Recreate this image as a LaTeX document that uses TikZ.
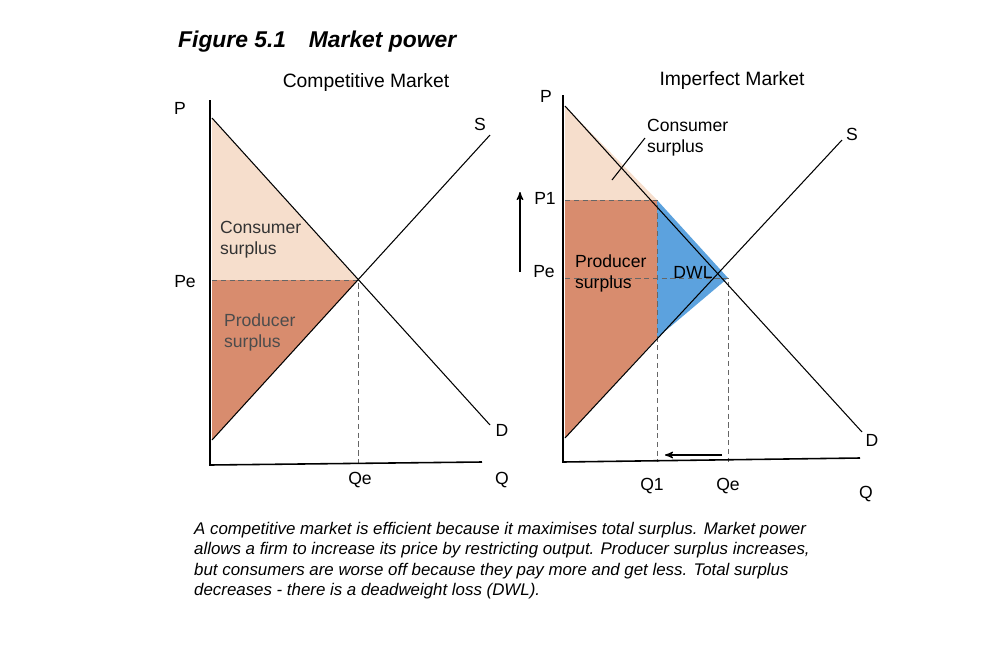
\documentclass[tikz,border=0pt]{standalone}
\usepackage{fontspec}
\setmainfont{Liberation Sans}
\usetikzlibrary{arrows}
\definecolor{cspeach}{RGB}{246,222,204}
\definecolor{pssalmon}{RGB}{216,140,110}
\definecolor{dwlblue}{RGB}{92,162,222}
\tikzset{
  axis/.style = {line width=0.9pt, black},
  curve/.style = {line width=0.6pt, black},
  guide/.style = {densely dashed, line width=0.4pt, gray!80!black},
  lbl/.style = {font=\fontsize{10}{12}\selectfont, inner sep=1pt},
  title/.style = {font=\fontsize{11}{13}\selectfont}}
\begin{document}
\begin{tikzpicture}[x=0.02cm,y=-0.02cm,>=stealth']
\useasboundingbox (0,0) rectangle (1002,650);
\node [anchor=west, font=\bfseries\itshape\fontsize{13}{15}\selectfont] (fig) at (172,42) {Figure 5.1\quad Market power};

% competitive market
\coordinate (O1) at (210,465);
\coordinate (P1top) at (210,100);
\coordinate (Q1end) at (482,462);
\coordinate (Dtop) at (212,118);
\coordinate (Dbot) at (490,425);
\coordinate (Sbot) at (212,440);
\coordinate (Stop) at (490,135);
\coordinate (E1) at (358,280);
\coordinate (Pe1) at (212,280);
\fill [cspeach] (Dtop) -- (E1) -- (Pe1) -- cycle;
\fill [pssalmon] (Pe1) -- (E1) -- (Sbot) -- cycle;
\draw [guide] (Pe1) -- (E1) -- (E1 |- O1);
\draw [curve] (Dtop) -- (Dbot);
\draw [curve] (Sbot) -- (Stop);
\draw [axis] (P1top) -- (O1) -- (Q1end);
\node [title] (t1) at (366,82) {Competitive Market};
\node [lbl] (p1) at (180,108) {P};
\node [lbl] (pe1) at (185,282) {Pe};
\node [lbl] (s1) at (480,124) {S};
\node [lbl] (d1) at (502,430) {D};
\node [lbl] (qe1) at (360,480) {Qe};
\node [lbl] (q1) at (502,480) {Q};
\node [lbl, align=left, anchor=west, text=black!80] (cs1) at (218,240) {Consumer\\surplus};
\node [lbl, align=left, anchor=west, text=black!70] (ps1) at (222,332) {Producer\\surplus};

% imperfect market
\coordinate (O2) at (563,462);
\coordinate (P2top) at (563,95);
\coordinate (Q2end) at (860,458);
\coordinate (D2top) at (565,106);
\coordinate (D2bot) at (862,432);
\coordinate (S2bot) at (565,438);
\coordinate (S2top) at (842,140);
\coordinate (E2) at (728,278);
\coordinate (M) at (657,200);
\coordinate (C) at (657,338);
\coordinate (PP1) at (565,200);
\coordinate (Pe2) at (565,278);
\fill [cspeach] (D2top) -- (M) -- (PP1) -- cycle;
\fill [pssalmon] (PP1) -- (M) -- (C) -- (S2bot) -- cycle;
\fill [dwlblue] (M) -- (E2) -- (C) -- cycle;
\draw [guide] (PP1) -- (M) -- (M |- O2);
\draw [guide] (Pe2) -- (E2) -- (E2 |- O2);
\draw [curve] (D2top) -- (D2bot);
\draw [curve] (S2bot) -- (S2top);
\draw [axis] (P2top) -- (O2) -- (Q2end);
\node [title] (t2) at (732,80) {Imperfect Market};
\node [lbl] (p2) at (546,96) {P};
\node [lbl] (pp1) at (545,198) {P1};
\node [lbl] (pe2) at (544,272) {Pe};
\node [lbl] (s2) at (852,134) {S};
\node [lbl] (d2) at (872,440) {D};
\node [lbl] (qq1) at (652,486) {Q1};
\node [lbl] (qe2) at (728,486) {Qe};
\node [lbl] (q2) at (866,494) {Q};
\node [lbl, align=left, anchor=west] (cs2) at (645,138) {Consumer\\surplus};
\node [lbl, align=left, anchor=west] (ps2) at (573,273) {Producer\\surplus};
\node [lbl] (dwl) at (693,272) {DWL};
\coordinate (csp) at (612,180);
\coordinate (csq) at (645,138);
\draw [curve] (csp) -- (csq);
\coordinate (upA) at (520,272);
\coordinate (upB) at (520,192);
\draw [->, line width=0.7pt] (upA) -- (upB);
\coordinate (lfA) at (722,455);
\coordinate (lfB) at (665,455);
\draw [->, line width=0.7pt] (lfA) -- (lfB);

% caption
\node [anchor=north west, align=left, font=\itshape\fontsize{9.6}{11.6}\selectfont] (cap) at (188,516)
  {A competitive market is efficient because it maximises total surplus. Market power\\
   allows a firm to increase its price by restricting output. Producer surplus increases,\\
   but consumers are worse off because they pay more and get less. Total surplus\\
   decreases - there is a deadweight loss (DWL).};
\end{tikzpicture}
\end{document}
